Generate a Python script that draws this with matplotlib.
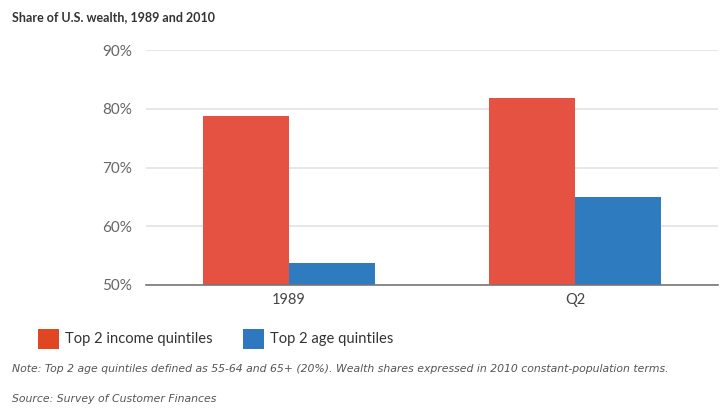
import matplotlib
matplotlib.use("Agg")
import matplotlib.pyplot as plt
from matplotlib.patches import Rectangle
import numpy as np

plt.rcParams['font.family'] = ['Lato', 'DejaVu Sans']

categories = ["1989", "Q2"]
income_top2 = [78.8, 81.8]
age_top2 = [53.8, 64.9]
series_names = ["Top 2 income quintiles", "Top 2 age quintiles"]
yticks = [50, 60, 70, 80, 90]

bar_red = "#E65241"
bar_blue = "#2F7BC0"
swatch_red = "#E0461F"
swatch_blue = "#2F78C0"

W, H = 724, 408
fig = plt.figure(figsize=(W / 100, H / 100), dpi=100)
ax = fig.add_axes([146 / W, 1 - 285 / H, 572 / W, 235 / H])

x = np.arange(len(categories))
w = 0.30
ax.bar(x - w / 2, income_top2, width=w, color=bar_red, zorder=3)
ax.bar(x + w / 2, age_top2, width=w, color=bar_blue, zorder=3)

ax.set_xlim(-0.5, 1.5)
ax.set_ylim(50, 90)
ax.set_yticks(yticks)
ax.set_yticklabels([f"{v}%" for v in yticks])
ax.set_xticks(x)
ax.set_xticklabels(categories)
ax.tick_params(axis='y', length=0, pad=10, labelsize=11, labelcolor="#666666")
ax.tick_params(axis='x', length=0, pad=6, labelsize=10.5, labelcolor="#444444")
ax.grid(axis='y', color="#e3e3e3", linewidth=1.2, zorder=0)
for s in ["top", "right", "left"]:
    ax.spines[s].set_visible(False)
ax.spines["bottom"].set_color("#777777")
ax.spines["bottom"].set_linewidth(1.2)
ax.spines["bottom"].set_zorder(4)

fig.text(12 / W, 1 - 17 / H, "Share of U.S. wealth, 1989 and 2010",
         fontsize=9, fontweight='bold', color="#333333", va='center', ha='left')

# legend: swatch + label pairs laid out along one row
legend_items = [(38, swatch_red, series_names[0]), (243, swatch_blue, series_names[1])]
for x0, col, label in legend_items:
    fig.add_artist(Rectangle((x0 / W, 1 - 349 / H), 21 / W, 20 / H,
                             transform=fig.transFigure, facecolor=col,
                             edgecolor='none'))
    fig.text((x0 + 27) / W, 1 - 339 / H, label, fontsize=10.6,
             color="#333333", va='center', ha='left')

fig.text(12 / W, 1 - 369 / H,
         "Note: Top 2 age quintiles defined as 55-64 and 65+ (20%). Wealth shares expressed in 2010 constant-population terms.",
         fontsize=7.8, style='italic', color="#555555", va='center', ha='left',
         family=['DejaVu Sans'])
fig.text(12 / W, 1 - 399 / H, "Source: Survey of Customer Finances",
         fontsize=7.8, style='italic', color="#555555", va='center', ha='left',
         family=['DejaVu Sans'])

fig.savefig("out.png", dpi=100)
